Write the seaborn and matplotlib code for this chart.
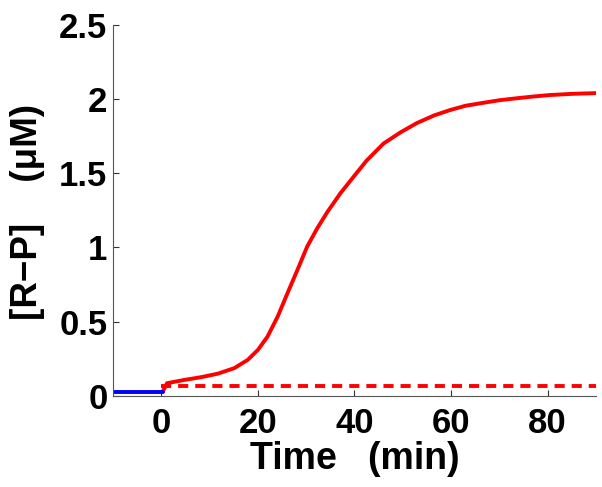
import pandas as pd
import matplotlib
matplotlib.use("Agg")
import matplotlib.pyplot as plt
import seaborn as sns

# before stimulus (blue)
t_before = [-10, 0.3]
rp_before = [0.029, 0.029]

# after stimulus (red, solid)
t_after = [0.3, 1.2, 4.8, 8.2, 11.7, 15.1, 17.9, 20, 22, 24.1, 26.1, 28.2, 30.2, 32.3,
           34.4, 37.1, 39.9, 42.5, 46, 49.5, 52.9, 56.5, 59.8, 63, 66.7, 70, 73.5,
           77, 80.4, 85, 90]
rp_after = [0.029, 0.086, 0.108, 0.126, 0.15, 0.187, 0.243, 0.31, 0.40, 0.535, 0.69, 0.85,
            1.006, 1.13, 1.24, 1.366, 1.48, 1.585, 1.70, 1.775, 1.838, 1.89, 1.926,
            1.955, 1.975, 1.992, 2.005, 2.017, 2.027, 2.035, 2.04]

# control (red, dashed)
t_ctrl = [0, 90]
rp_ctrl = [0.067, 0.067]

xticks = [0, 20, 40, 60, 80]
yticks = [0, 0.5, 1, 1.5, 2, 2.5]
yticklabels = ["0", "0.5", "1", "1.5", "2", "2.5"]

sns.set_style("ticks")
plt.rcParams["font.family"] = ["Liberation Sans", "DejaVu Sans"]
plt.rcParams["font.weight"] = "bold"

df_b = pd.DataFrame({"t": t_before, "rp": rp_before})
df_a = pd.DataFrame({"t": t_after, "rp": rp_after})
df_c = pd.DataFrame({"t": t_ctrl, "rp": rp_ctrl})

fig = plt.figure(figsize=(6.02, 4.87), dpi=100)
ax = fig.add_axes([0.1877, 0.187, 0.8023, 0.762])

sns.lineplot(data=df_c, x="t", y="rp", ax=ax, color="#ff0000", lw=2.8,
             linestyle=(0, (2.6, 1.8)))
sns.lineplot(data=df_a, x="t", y="rp", ax=ax, color="#ff0000", lw=2.8)
sns.lineplot(data=df_b, x="t", y="rp", ax=ax, color="#0000ff", lw=2.8)

ax.set_xlim(-10, 90)
ax.set_ylim(0, 2.5)
ax.set_xticks(xticks)
ax.set_yticks(yticks)
ax.set_yticklabels(yticklabels)
ax.tick_params(direction="in", length=4, width=0.8, labelsize=25,
               colors="#333333", labelcolor="black")
ax.tick_params(axis="x", pad=8)
ax.tick_params(axis="y", pad=4)
for lbl in ax.get_xticklabels() + ax.get_yticklabels():
    lbl.set_fontweight("bold")

sns.despine(ax=ax)
for s in ["left", "bottom"]:
    ax.spines[s].set_color("#555555")
    ax.spines[s].set_linewidth(0.8)

ax.set_xlabel("Time   (min)", fontsize=27, fontweight="bold", color="black")
ax.xaxis.set_label_coords(0.5, -0.121)
ax.set_ylabel("[R\u2212P]    (\u03bcM)", fontsize=26.5, fontweight="bold", color="black")
ax.yaxis.set_label_coords(-0.141, 0.497)

fig.savefig("out.png", dpi=100)
